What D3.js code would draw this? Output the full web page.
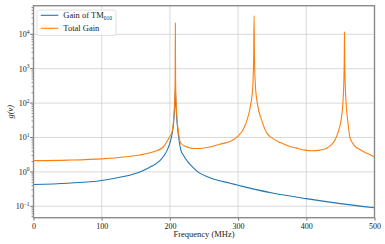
<!DOCTYPE html>
<html>
<head>
<meta charset="utf-8">
<script src="https://cdn.jsdelivr.net/npm/d3@7/dist/d3.min.js"></script>
<style>
  body { margin: 0; background: #fff; }
  svg { display: block; font-family: "Liberation Serif", "DejaVu Serif", serif; }
</style>
</head>
<body>
<div id="chart"></div>
<script>
// values: [frequency MHz, g(nu)]
var gainTM010 = [
    [0, 0.43], [50, 0.47], [100, 0.56], [130, 0.72], [156, 1.0], [170, 1.35],
    [177, 1.6], [185, 2.1], [191, 2.9], [196, 4.3], [200, 7], [203, 12],
    [205.5, 28], [207, 80], [208, 250], [209, 80], [210.5, 28], [213, 9.5],
    [216, 4.4], [220, 3.0], [226, 2.0], [233, 1.4], [241, 1.0], [255, 0.72],
    [270, 0.57], [288, 0.47], [300, 0.41], [325, 0.31], [352, 0.24],
    [400, 0.167], [450, 0.12], [500, 0.091]
];

var totalGain = [
    [0, 2.13], [50, 2.2], [100, 2.39], [140, 2.8], [156, 3.1], [177, 3.9],
    [190, 5.2], [199, 10], [203, 14], [205.5, 35], [207, 120], [207.7, 600],
    [208, 21000], [208.3, 600], [209, 120], [210.5, 35], [213, 12], [216, 6.8],
    [226, 5.2], [235, 4.8], [245, 4.8], [260, 5.4], [273, 6.4], [288, 7.6],
    [300, 11], [308, 18], [313, 32], [318, 80], [321.5, 300], [322.8, 2000],
    [323.4, 35000], [324, 2000], [325.5, 300], [329, 80], [334, 34], [342, 13.6],
    [350, 9.6], [362, 7.1], [375, 5.6], [386, 4.9], [398, 4.3], [408, 4.1],
    [420, 4.3], [430, 4.9], [438, 6.5], [442, 8.5], [447, 15], [451, 32],
    [453.5, 90], [455, 400], [455.6, 1500], [456, 11500], [456.4, 1500],
    [457, 400], [458.5, 90], [461, 28], [464, 10], [470, 6], [479, 4.4],
    [490, 3.4], [500, 2.7]
];

var xTicks = [0, 100, 200, 300, 400, 500];
var yExponents = [-1, 0, 1, 2, 3, 4];
var seriesNames = ['Gain of TM', 'Total Gain'];
var seriesColors = ['#1f77b4', '#ff7f0e'];

var width = 385, height = 244;
var margin = { left: 33.5, right: 10.5, top: 5.7, bottom: 26.3 };

var svg = d3.select('#chart').append('svg')
    .attr('width', width)
    .attr('height', height);

var x = d3.scaleLinear()
    .domain([0, 500])
    .range([margin.left, width - margin.right]);

var y = d3.scaleLog()
    .domain([Math.pow(10, -1.331), Math.pow(10, 4.83)])
    .range([height - margin.bottom, margin.top]);

// grid
var grid = svg.append('g').attr('class', 'grid');
grid.selectAll('line.gx')
    .data(xTicks)
    .enter().append('line')
    .attr('class', 'gx')
    .attr('x1', function(d) { return x(d); })
    .attr('x2', function(d) { return x(d); })
    .attr('y1', margin.top)
    .attr('y2', height - margin.bottom)
    .style('stroke', '#cfcfcf')
    .style('stroke-width', 0.8);

grid.selectAll('line.gy')
    .data(yExponents)
    .enter().append('line')
    .attr('class', 'gy')
    .attr('x1', margin.left)
    .attr('x2', width - margin.right)
    .attr('y1', function(d) { return y(Math.pow(10, d)); })
    .attr('y2', function(d) { return y(Math.pow(10, d)); })
    .style('stroke', '#cfcfcf')
    .style('stroke-width', 0.8);

// curves
svg.append('clipPath').attr('id', 'plotClip')
    .append('rect')
    .attr('x', margin.left)
    .attr('y', margin.top)
    .attr('width', width - margin.left - margin.right)
    .attr('height', height - margin.top - margin.bottom);

var line = d3.line()
    .x(function(d) { return x(d[0]); })
    .y(function(d) { return y(d[1]); })
    .curve(d3.curveMonotoneX);

var plot = svg.append('g').attr('clip-path', 'url(#plotClip)');
[gainTM010, totalGain].forEach(function(series, i) {
    plot.append('path')
        .datum(series)
        .attr('d', line)
        .style('fill', 'none')
        .style('stroke', seriesColors[i])
        .style('stroke-width', 1.1);
});

// axes
var xAxis = d3.axisBottom(x)
    .tickValues(xTicks)
    .tickSize(3)
    .tickFormat(d3.format('d'));

var xg = svg.append('g')
    .attr('transform', 'translate(0,' + (height - margin.bottom) + ')')
    .call(xAxis);
xg.select('.domain').remove();
xg.selectAll('.tick line').style('stroke', '#555').style('stroke-width', 0.8);
xg.selectAll('.tick text')
    .attr('y', 6)
    .attr('dy', '0.71em')
    .style('font-family', '"Liberation Serif", serif')
    .style('font-size', '8px')
    .style('fill', '#222');

var minorTicks = [];
for (var e = -2; e <= 4; e++) {
    for (var m = 2; m <= 9; m++) {
        var v = m * Math.pow(10, e);
        if (v >= y.domain()[0] && v <= y.domain()[1]) minorTicks.push(v);
    }
}

var yg = svg.append('g').attr('class', 'yaxis');
yg.selectAll('line.minor')
    .data(minorTicks)
    .enter().append('line')
    .attr('class', 'minor')
    .attr('x1', margin.left - 2)
    .attr('x2', margin.left)
    .attr('y1', function(d) { return y(d); })
    .attr('y2', function(d) { return y(d); })
    .style('stroke', '#555')
    .style('stroke-width', 0.6);

yg.selectAll('line.major')
    .data(yExponents)
    .enter().append('line')
    .attr('class', 'major')
    .attr('x1', margin.left - 3.5)
    .attr('x2', margin.left)
    .attr('y1', function(d) { return y(Math.pow(10, d)); })
    .attr('y2', function(d) { return y(Math.pow(10, d)); })
    .style('stroke', '#555')
    .style('stroke-width', 0.8);

var yLabels = yg.selectAll('text.ylab')
    .data(yExponents)
    .enter().append('text')
    .attr('class', 'ylab')
    .attr('x', margin.left - 4)
    .attr('y', function(d) { return y(Math.pow(10, d)) + 3; })
    .attr('text-anchor', 'end')
    .style('font-size', '8px')
    .style('fill', '#222');
yLabels.append('tspan').text('10');
yLabels.append('tspan')
    .attr('dy', -3.5)
    .style('font-size', '5.5px')
    .text(function(d) { return d < 0 ? '\u2212' + Math.abs(d) : d; });

// frame
svg.append('rect')
    .attr('x', margin.left)
    .attr('y', margin.top)
    .attr('width', width - margin.left - margin.right)
    .attr('height', height - margin.top - margin.bottom)
    .style('fill', 'none')
    .style('stroke', '#8a8a8a')
    .style('stroke-width', 1.4);

// axis titles
svg.append('text')
    .attr('x', (margin.left + width - margin.right) / 2)
    .attr('y', 236.8)
    .attr('text-anchor', 'middle')
    .style('font-size', '8.5px')
    .style('fill', '#222')
    .text('Frequency (MHz)');

svg.append('text')
    .attr('transform', 'translate(12.5,' + ((margin.top + height - margin.bottom) / 2) + ') rotate(-90)')
    .attr('text-anchor', 'middle')
    .style('font-size', '8.5px')
    .style('font-style', 'italic')
    .style('fill', '#222')
    .text('g(\u03bd)');

// legend
var legend = svg.append('g');
legend.append('rect')
    .attr('x', 37)
    .attr('y', 10)
    .attr('width', 79)
    .attr('height', 25.5)
    .attr('rx', 2)
    .style('fill', '#fff')
    .style('fill-opacity', 0.85)
    .style('stroke', '#d8d8d8')
    .style('stroke-width', 0.8);

seriesNames.forEach(function(name, i) {
    var ly = 15.3 + i * 13;
    legend.append('line')
        .attr('x1', 40.7)
        .attr('x2', 58.3)
        .attr('y1', ly)
        .attr('y2', ly)
        .style('stroke', seriesColors[i])
        .style('stroke-width', 1.1);
    var t = legend.append('text')
        .attr('x', 63.3)
        .attr('y', ly + 3)
        .style('font-size', '8.5px')
        .style('fill', '#222')
        .text(name);
    if (i === 0) {
        t.append('tspan')
            .attr('dy', 1.8)
            .style('font-size', '5.5px')
            .text('010');
    }
});
</script>
</body>
</html>
